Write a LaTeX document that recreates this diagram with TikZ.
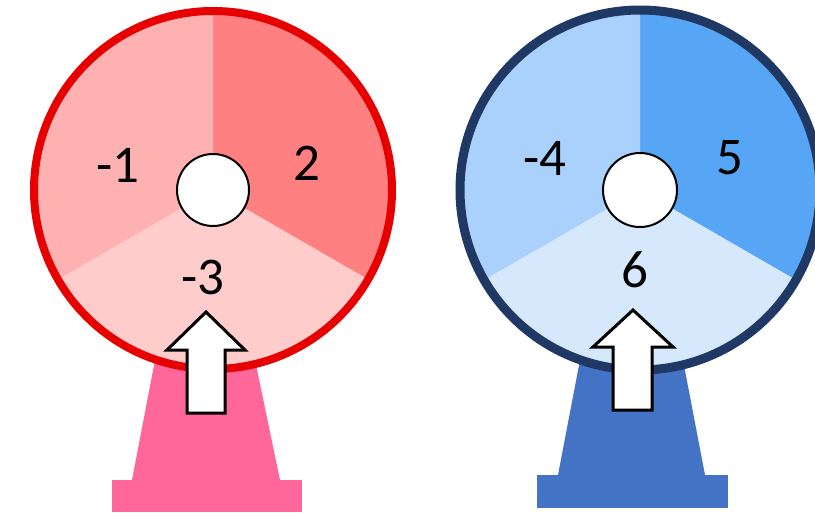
\documentclass[tikz,border=0pt]{standalone}
\usepackage{fontspec}
\setmainfont{Carlito}
\definecolor{redring}{HTML}{E60000}
\definecolor{pinkA}{HTML}{FDB1B1}
\definecolor{pinkB}{HTML}{FF8080}
\definecolor{pinkC}{HTML}{FFCCCC}
\definecolor{standpink}{HTML}{FF6699}
\definecolor{navy}{HTML}{1F3864}
\definecolor{blueA}{HTML}{A9D1FB}
\definecolor{blueB}{HTML}{57A6F5}
\definecolor{blueC}{HTML}{D6E8FC}
\definecolor{standblue}{HTML}{4472C4}
\tikzset{
  num/.style={font=\fontsize{53}{53}\selectfont, text=black, inner sep=0pt},
  hub/.style={fill=white, draw=black, line width=2pt},
  pointer/.style={fill=white, draw=black, line width=3pt, line join=miter},
}
\begin{document}
\begin{tikzpicture}[x=1pt,y=-1pt]
\useasboundingbox (0,0) rectangle (815,517);
\fill[white] (0,0) rectangle (815,517);

% ---- left spinner (red) ----
% stand
\fill[standpink] (155,360) -- (255,360) -- (280,480) -- (132,480) -- cycle;
\fill[standpink] (112,480) rectangle (302,512);
% sectors (explicit pt lengths: angles counted counter-clockwise on the page)
\coordinate (cL) at (213,190);
\fill[pinkB] (cL) -- ++(-30:179pt) arc[start angle=-30, end angle=90, radius=179pt] -- cycle;
\fill[pinkC] (cL) -- ++(210:179pt) arc[start angle=210, end angle=330, radius=179pt] -- cycle;
\fill[pinkA] (cL) -- ++(90:179pt) arc[start angle=90, end angle=210, radius=179pt] -- cycle;
\draw[redring, line width=8pt] (cL) circle[radius=179pt];
\draw[hub] (cL) circle[radius=36pt];
\node[num] (m1) at (118,165) {-1};
\node[num] (p2) at (307,163) {2};
\node[num] (m3) at (203,277) {-3};
% pointer
\draw[pointer] (206,312) -- (245,350) -- (225,350) -- (225,413) -- (187,413) -- (187,350) -- (167,350) -- cycle;

% ---- right spinner (blue) ----
\fill[standblue] (580,360) -- (683,360) -- (705,475) -- (558,475) -- cycle;
\fill[standblue] (537,475) rectangle (728,508);
\coordinate (cR) at (640,190);
\fill[blueB] (cR) -- ++(-30:180pt) arc[start angle=-30, end angle=90, radius=180pt] -- cycle;
\fill[blueC] (cR) -- ++(210:180pt) arc[start angle=210, end angle=330, radius=180pt] -- cycle;
\fill[blueA] (cR) -- ++(90:180pt) arc[start angle=90, end angle=210, radius=180pt] -- cycle;
\draw[navy, line width=9pt] (cR) circle[radius=180pt];
\draw[hub] (cR) circle[radius=37pt];
\node[num] (m4) at (545,158) {-4};
\node[num] (p5) at (730,158) {5};
\node[num] (p6) at (635,270) {6};
\draw[pointer] (633,310) -- (673,347) -- (652,347) -- (652,410) -- (613,410) -- (613,347) -- (593,347) -- cycle;
\end{tikzpicture}
\end{document}
